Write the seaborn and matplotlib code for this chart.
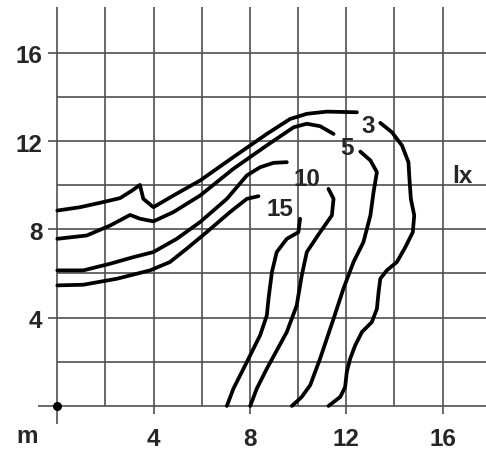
import numpy as np
import matplotlib
matplotlib.use("Agg")
import matplotlib.pyplot as plt
import seaborn as sns

# contour lines, each split into an upper-left arm and a right arm (gap = label)
c3_arm1_x = [0, 0.94, 1.77, 2.60, 3.10, 3.43, 3.57, 3.99, 4.82, 5.93, 7.31, 8.70, 9.67, 10.36, 11.19, 12.44]
c3_arm1_y = [8.85, 9.00, 9.20, 9.41, 9.75, 10.01, 9.38, 9.00, 9.53, 10.21, 11.27, 12.32, 13.00, 13.23, 13.33, 13.30]
c3_arm2_x = [13.41, 13.89, 14.31, 14.58, 14.63, 14.68, 14.82, 14.76, 14.45, 14.10, 13.68, 13.41, 13.34, 13.27, 13.06, 12.65, 12.37, 12.16, 12.02, 11.95, 11.75, 11.26]
c3_arm2_y = [12.82, 12.40, 11.80, 11.04, 10.14, 9.38, 8.63, 7.87, 7.19, 6.52, 6.14, 5.76, 5.16, 4.40, 3.80, 3.35, 2.75, 2.14, 1.54, 0.86, 0.41, 0.0]

c5_arm1_x = [0, 1.22, 2.19, 3.02, 3.43, 3.99, 4.82, 5.93, 7.31, 8.70, 9.81, 10.36, 10.91, 11.47]
c5_arm1_y = [7.57, 7.72, 8.17, 8.65, 8.48, 8.36, 8.78, 9.53, 10.74, 11.80, 12.62, 12.78, 12.67, 12.32]
c5_arm2_x = [12.58, 13.00, 13.27, 13.13, 13.00, 12.71, 12.30, 11.88, 11.47, 10.91, 10.50, 10.15, 9.74]
c5_arm2_y = [11.52, 11.12, 10.59, 9.68, 8.63, 7.42, 6.52, 5.31, 3.95, 2.14, 0.94, 0.41, 0.0]

c10_arm1_x = [0, 1.08, 2.19, 3.16, 3.99, 4.96, 5.93, 7.04, 7.87, 8.42, 8.98, 9.53]
c10_arm1_y = [6.14, 6.14, 6.44, 6.74, 6.97, 7.57, 8.33, 9.38, 10.44, 10.81, 11.01, 11.04]
c10_arm2_x = [11.26, 11.47, 11.40, 10.91, 10.36, 10.15, 9.94, 9.53, 8.70, 8.28, 8.01]
c10_arm2_y = [9.83, 9.38, 8.63, 7.87, 6.97, 5.91, 4.55, 3.35, 1.69, 0.78, 0.0]

c15_arm1_x = [0, 1.08, 2.47, 3.85, 4.68, 5.37, 6.20, 7.17, 7.87, 8.35]
c15_arm1_y = [5.46, 5.49, 5.76, 6.14, 6.52, 7.12, 7.87, 8.78, 9.38, 9.50]
c15_arm2_x = [10.08, 10.01, 9.53, 9.11, 8.91, 8.77, 8.70, 8.42, 7.87, 7.31, 7.04]
c15_arm2_y = [8.48, 7.87, 7.57, 6.97, 6.06, 4.86, 4.10, 3.20, 1.99, 0.78, 0.0]

contour_labels = ["3", "5", "10", "15"]
label_x = [12.92, 12.02, 10.36, 9.25]
label_y = [12.70, 11.72, 10.29, 8.93]

tick_values = [4, 8, 12, 16]
tick_labels = ["4", "8", "12", "16"]

sns.set_theme(style="white")
plt.rcParams["font.family"] = ["Liberation Sans", "DejaVu Sans"]

fig = plt.figure(figsize=(4.86, 4.52), dpi=100)
ax = fig.add_axes([0, 0, 1, 1])
ax.set_xlim(-2.38, 17.8)
ax.set_ylim(-2.04, 18.43)
ax.axis("off")

grid_col = "#505050"
# grid every 2 m
ax.vlines(np.arange(0, 17, 2), 0, 18.05, color=grid_col, lw=1.2, zorder=1)
ax.hlines(np.arange(2, 17, 2), 0, 17.8, color=grid_col, lw=1.2, zorder=1)
ax.hlines(0, -0.8, 17.8, color=grid_col, lw=1.2, zorder=1)
ax.vlines(0, -0.8, 0, color=grid_col, lw=1.2, zorder=1)
# little ticks at labelled values
ax.hlines(tick_values, -0.4, 0, color=grid_col, lw=1.2, zorder=1)
ax.vlines(tick_values, -0.35, 0, color=grid_col, lw=1.2, zorder=1)
ax.scatter([0], [0], s=30, color="black", zorder=4)

arms = [
    (c3_arm1_x, c3_arm1_y), (c3_arm2_x, c3_arm2_y),
    (c5_arm1_x, c5_arm1_y), (c5_arm2_x, c5_arm2_y),
    (c10_arm1_x, c10_arm1_y), (c10_arm2_x, c10_arm2_y),
    (c15_arm1_x, c15_arm1_y), (c15_arm2_x, c15_arm2_y),
]
for xs, ys in arms:
    sns.lineplot(x=xs, y=ys, sort=False, estimator=None, color="black",
                 lw=2.7, ax=ax, zorder=3,
                 solid_capstyle="round", solid_joinstyle="round")

fs = 17.5
for t, x, y in zip(contour_labels, label_x, label_y):
    ax.text(x, y, t, fontsize=fs, fontweight="bold", ha="center", va="center", zorder=5)

for v, t in zip(tick_values, tick_labels):
    ax.text(v, -1.48, t, fontsize=fs, fontweight="bold", ha="center", va="center")
    ax.text(-0.62, v - 0.15, t, fontsize=fs, fontweight="bold", ha="right", va="center")

ax.text(-1.27, -1.33, "m", fontsize=fs, fontweight="bold", ha="center", va="center")
ax.text(16.83, 10.42, "lx", fontsize=fs, fontweight="bold", ha="center", va="center")

fig.savefig("out.png", dpi=100)
